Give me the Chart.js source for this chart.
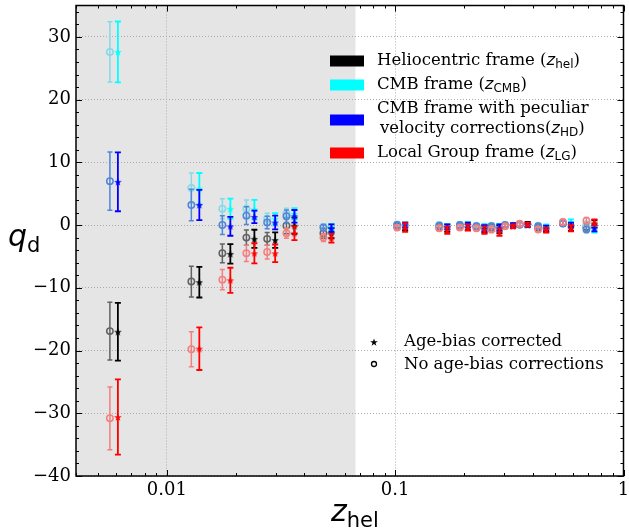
<!DOCTYPE html>
<html>
<head>
<meta charset="utf-8">
<script src="https://cdn.jsdelivr.net/npm/chart.js@4.4.0/dist/chart.umd.min.js"></script>
<style>
  html, body { margin: 0; padding: 0; background: #fff; }
  #wrap { width: 629px; height: 532px; }
</style>
</head>
<body>
<div id="wrap"><canvas id="qdChart"></canvas></div>
<script>
// redshift bins (z_hel); the age-bias corrected points sit slightly to the right
const zBins = [0.00563, 0.0128, 0.0175, 0.0223, 0.0275, 0.0334, 0.0485,
               0.102, 0.156, 0.192, 0.227, 0.264, 0.303, 0.351, 0.423, 0.543, 0.688];
const starShift = 1.084;

const xTicks = [0.01, 0.1, 1];
const yTicks = [-40, -30, -20, -10, 0, 10, 20, 30];

// Heliocentric frame
const helNo     = [-16.9, -9.0, -4.5, -2.0, -2.2, -0.1, -1.3, -0.2, -0.3, -0.2, -0.3, -0.4, -0.1, 0.1, -0.4, 0.3, -0.3];
const helNoErr  = [4.6, 2.45, 1.5, 1.2, 1.0, 1.3, 0.8, 0.5, 0.5, 0.4, 0.5, 0.5, 0.4, 0.4, 0.5, 0.5, 0.8];
const helAge    = [-17.0, -9.1, -4.6, -2.2, -2.4, -0.1, -1.3, -0.2, -0.5, -0.3, -0.6, -0.7, -0.1, 0.1, -0.6, -0.3, 0.2];
const helAgeErr = [4.6, 2.45, 1.55, 1.45, 1.25, 1.3, 0.8, 0.6, 0.6, 0.5, 0.6, 0.6, 0.4, 0.4, 0.5, 0.6, 0.6];

// CMB frame
const cmbNo     = [27.6, 5.9, 2.6, 2.6, 1.0, 1.8, -0.3, 0.1, 0.0, 0.0, -0.1, -0.1, 0.0, 0.1, -0.1, 0.4, 0.1];
const cmbNoErr  = [4.8, 2.4, 1.6, 1.4, 0.9, 0.9, 0.5, 0.4, 0.4, 0.4, 0.4, 0.4, 0.3, 0.3, 0.4, 0.4, 0.5];
const cmbAge    = [27.6, 5.8, 2.6, 2.5, 1.0, 1.8, -0.3, 0.0, -0.2, 0.1, -0.3, -0.3, 0.0, 0.0, -0.3, 0.5, -0.7];
const cmbAgeErr = [4.85, 2.5, 1.6, 1.5, 0.9, 0.9, 0.5, 0.4, 0.4, 0.4, 0.5, 0.5, 0.3, 0.3, 0.4, 0.4, 0.5];

// CMB frame with peculiar velocity corrections
const hdNo      = [7.0, 3.2, 0.0, 1.5, 0.4, 1.4, -0.4, 0.0, -0.1, 0.0, -0.2, -0.2, 0.0, 0.1, -0.2, 0.25, -0.7];
const hdNoErr   = [4.65, 2.5, 1.5, 1.4, 1.0, 1.0, 0.5, 0.4, 0.4, 0.4, 0.4, 0.4, 0.3, 0.3, 0.4, 0.4, 0.5];
const hdAge     = [6.9, 3.2, -0.2, 1.3, 0.4, 1.4, -0.5, 0.0, -0.3, 0.0, -0.5, -0.4, 0.0, 0.0, -0.5, 0.0, -0.5];
const hdAgeErr  = [4.7, 2.4, 1.5, 1.0, 1.1, 1.0, 0.6, 0.4, 0.4, 0.4, 0.5, 0.5, 0.3, 0.3, 0.4, 0.4, 0.5];

// Local Group frame
const lgNo      = [-30.8, -19.8, -8.7, -4.5, -4.3, -1.3, -2.0, -0.4, -0.5, -0.4, -0.5, -0.7, -0.2, 0.2, -0.7, 0.5, 0.7];
const lgNoErr   = [5.0, 2.8, 1.6, 1.3, 1.1, 0.8, 0.6, 0.4, 0.4, 0.4, 0.4, 0.5, 0.3, 0.3, 0.4, 0.4, 0.5];
const lgAge     = [-30.6, -19.7, -8.8, -4.5, -4.5, -1.3, -2.1, -0.4, -0.8, -0.4, -0.8, -1.1, -0.2, 0.1, -0.8, -0.5, 0.4];
const lgAgeErr  = [6.0, 3.4, 2.0, 1.6, 1.4, 1.1, 0.7, 0.7, 0.6, 0.5, 0.6, 0.6, 0.3, 0.3, 0.4, 0.5, 0.5];

const serif = '"DejaVu Serif", serif';
const sans = '"DejaVu Sans", sans-serif';

function starImage(color, size) {
    const c = document.createElement('canvas');
    c.width = c.height = size;
    const g = c.getContext('2d');
    g.fillStyle = color;
    g.beginPath();
    for (let k = 0; k < 10; k++) {
        const r = k % 2 ? size * 0.2 : size / 2;
        const a = -Math.PI / 2 + k * Math.PI / 5;
        g.lineTo(size / 2 + r * Math.cos(a), size / 2 + r * Math.sin(a) + 0.5);
    }
    g.closePath();
    g.fill();
    return c;
}

function circleSet(q, err, color) {
    return {
        data: zBins.map((z, i) => ({ x: z, y: q[i] })),
        errors: err,
        barColor: color,
        barWidth: 1.5,
        cap: 2.5,
        pointStyle: 'circle',
        pointRadius: 3.2,
        pointBorderWidth: 1.5,
        borderColor: color,
        backgroundColor: 'rgba(0,0,0,0)',
        showLine: false
    };
}

function starSet(q, err, color) {
    return {
        data: zBins.map((z, i) => ({ x: z * starShift, y: q[i] })),
        errors: err,
        barColor: color,
        barWidth: 1.8,
        cap: 3,
        pointStyle: starImage(color, 8),
        pointRadius: 3,
        borderColor: color,
        backgroundColor: color,
        showLine: false
    };
}

// first dataset is painted last, so Local Group ends up on top
const datasets = [
    starSet(lgAge, lgAgeErr, '#ff0000'),
    circleSet(lgNo, lgNoErr, '#f47f7f'),
    starSet(hdAge, hdAgeErr, '#0000ff'),
    circleSet(hdNo, hdNoErr, '#4f86da'),
    starSet(cmbAge, cmbAgeErr, '#00ffff'),
    circleSet(cmbNo, cmbNoErr, '#86d9e8'),
    starSet(helAge, helAgeErr, '#000000'),
    circleSet(helNo, helNoErr, '#626262')
];

const errorBars = {
    id: 'errorBars',
    beforeDatasetDraw(chart, args) {
        const ds = chart.data.datasets[args.index];
        const y = chart.scales.y;
        const ctx = chart.ctx;
        ctx.save();
        ctx.strokeStyle = ds.barColor;
        ctx.lineWidth = ds.barWidth;
        args.meta.data.forEach((pt, i) => {
            const v = ds.data[i].y, e = ds.errors[i];
            const top = y.getPixelForValue(v + e);
            const bot = y.getPixelForValue(v - e);
            ctx.beginPath();
            ctx.moveTo(pt.x, top); ctx.lineTo(pt.x, bot);
            ctx.moveTo(pt.x - ds.cap, top); ctx.lineTo(pt.x + ds.cap, top);
            ctx.moveTo(pt.x - ds.cap, bot); ctx.lineTo(pt.x + ds.cap, bot);
            ctx.stroke();
        });
        ctx.restore();
    }
};

// grey band for the low-redshift range
const shade = {
    id: 'shade',
    beforeDraw(chart) {
        const { ctx, chartArea: a, scales: { x } } = chart;
        ctx.save();
        ctx.fillStyle = '#fff';
        ctx.fillRect(0, 0, chart.width, chart.height);
        ctx.fillStyle = '#e5e5e5';
        ctx.fillRect(a.left, a.top, x.getPixelForValue(0.067) - a.left, a.bottom - a.top);
        ctx.restore();
    }
};

function subText(ctx, x, y, parts) {
    // parts: [text, font, dy]
    parts.forEach(([t, f, dy]) => {
        ctx.font = f;
        ctx.fillText(t, x, y + dy);
        x += ctx.measureText(t).width;
    });
    return x;
}

const frameAndLegend = {
    id: 'frameAndLegend',
    afterDraw(chart) {
        const { ctx, chartArea: a, scales: { x, y } } = chart;
        ctx.save();
        ctx.strokeStyle = '#000';
        ctx.lineWidth = 1;
        // inward ticks on all four sides
        ctx.beginPath();
        for (let e = -3; e <= 0; e++) {
            for (let m = 1; m <= 9; m++) {
                const v = m * Math.pow(10, e);
                if (v < x.min || v > x.max) continue;
                const px = Math.round(x.getPixelForValue(v)) + 0.5;
                const len = m === 1 ? 6 : 3;
                ctx.moveTo(px, a.bottom); ctx.lineTo(px, a.bottom - len);
                ctx.moveTo(px, a.top); ctx.lineTo(px, a.top + len);
            }
        }
        for (let v = -40; v <= 35; v += 2) {
            const py = Math.round(y.getPixelForValue(v)) + 0.5;
            const len = v % 10 === 0 ? 6 : 3;
            ctx.moveTo(a.left, py); ctx.lineTo(a.left + len, py);
            ctx.moveTo(a.right, py); ctx.lineTo(a.right - len, py);
        }
        ctx.stroke();
        ctx.lineWidth = 1.5;
        ctx.strokeRect(a.left, a.top, a.right - a.left, a.bottom - a.top);

        // frame legend
        const big = '16.5px ' + serif, zf = 'italic 16.5px ' + sans, sf = '12px ' + sans;
        ctx.fillStyle = '#000';
        ctx.textBaseline = 'middle';
        const rows = [
            ['#000000', 61, 'Heliocentric frame (', 'hel'],
            ['#00ffff', 85, 'CMB frame (', 'CMB'],
            ['#0000ff', 120, null, 'HD'],
            ['#ff0000', 153, 'Local Group frame (', 'LG']
        ];
        rows.forEach(([c, cy, label, sub]) => {
            ctx.fillStyle = c;
            ctx.fillRect(330, cy - 5.5, 34, 11);
            ctx.fillStyle = '#000';
            if (label) {
                subText(ctx, 377, cy, [[label, big, 0], ['z', zf, 0], [sub, sf, 4], [')', big, 0]]);
            }
        });
        subText(ctx, 377, 109, [['CMB frame with peculiar', big, 0]]);
        subText(ctx, 380, 129, [['velocity corrections(', big, 0], ['z', zf, 0], ['HD', sf, 4], [')', big, 0]]);

        // marker legend
        ctx.drawImage(starImage('#000', 8), 370, 338);
        ctx.beginPath();
        ctx.lineWidth = 1.3;
        ctx.arc(374, 364, 2.5, 0, Math.PI * 2);
        ctx.stroke();
        ctx.font = '16.5px ' + serif;
        ctx.fillText('Age-bias corrected', 404, 342);
        ctx.fillText('No age-bias corrections', 404, 365);

        // axis titles
        ctx.textBaseline = 'alphabetic';
        subText(ctx, 331, 521, [['z', 'italic 30px ' + sans, 0], ['hel', '21px ' + sans, 6]]);
        subText(ctx, 8, 246, [['q', 'italic 30px ' + sans, 0], ['d', '21px ' + sans, 6]]);
        ctx.restore();
    }
};

new Chart(document.getElementById('qdChart'), {
    type: 'scatter',
    data: { datasets: datasets },
    options: {
        responsive: true,
        maintainAspectRatio: false,
        animation: false,
        devicePixelRatio: 1,
        layout: { padding: { left: 0, top: 2, right: 3, bottom: 0 } },
        plugins: { legend: { display: false }, tooltip: { enabled: false } },
        scales: {
            x: {
                type: 'logarithmic',
                min: 0.004,
                max: 1,
                afterBuildTicks: s => { s.ticks = xTicks.map(v => ({ value: v })); },
                afterFit: s => { s.height = 56; s.paddingLeft = 0; s.paddingRight = 0; },
                ticks: {
                    callback: v => String(v),
                    font: { family: serif, size: 18 },
                    color: '#000',
                    maxRotation: 0,
                    autoSkip: false,
                    padding: 4
                },
                grid: { color: '#aaa', drawTicks: false, lineWidth: 1 },
                border: { display: false, dash: [1, 2] }
            },
            y: {
                min: -40,
                max: 35,
                afterBuildTicks: s => { s.ticks = yTicks.map(v => ({ value: v })); },
                afterFit: s => { s.width = 76; s.paddingTop = 0; s.paddingBottom = 0; },
                ticks: {
                    callback: v => v < 0 ? '\u2212' + Math.abs(v) : String(v),
                    font: { family: serif, size: 18 },
                    color: '#000',
                    padding: 5
                },
                grid: { color: '#aaa', drawTicks: false, lineWidth: 1 },
                border: { display: false, dash: [1, 2] }
            }
        }
    },
    plugins: [shade, errorBars, frameAndLegend]
});
</script>
</body>
</html>
